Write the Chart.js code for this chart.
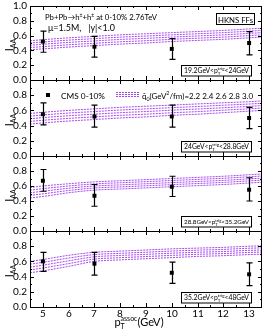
<!DOCTYPE html>
<html><head><meta charset="utf-8">
<script src="https://cdn.jsdelivr.net/npm/chart.js@4.4.1/dist/chart.umd.min.js"></script>
<style>
html,body{margin:0;padding:0;background:#fff;}
#wrap{position:relative;width:266px;height:330px;overflow:hidden;background:#fff}
canvas{position:absolute;left:0}
</style>
</head><body><div id="wrap"></div>
<script>
// ---------- data ----------
const xTheory = [4.5, 5, 6, 7, 8, 9, 10, 11, 12, 13, 13.5];
const qhatValues = ['2.2', '2.4', '2.6', '2.8', '3.0'];
const xData = [5, 7, 10, 13];
const xTickValues = [5, 6, 7, 8, 9, 10, 11, 12, 13];
const yTicksTop = [0, 0.2, 0.4, 0.6, 0.8, 1.0];
const yTicksOther = [0, 0.2, 0.4, 0.6, 0.8];
const trigRanges = [['19.2', '24'], ['24', '28.8'], ['28.8', '35.2'], ['35.2', '48']];

const theory1 = [
  [0.53, 0.545, 0.57, 0.59, 0.61, 0.625, 0.64, 0.655, 0.67, 0.69, 0.70],
  [0.50, 0.514, 0.539, 0.559, 0.579, 0.594, 0.61, 0.625, 0.64, 0.66, 0.67],
  [0.47, 0.483, 0.508, 0.528, 0.548, 0.563, 0.58, 0.595, 0.61, 0.63, 0.64],
  [0.44, 0.451, 0.476, 0.496, 0.516, 0.531, 0.55, 0.565, 0.58, 0.60, 0.61],
  [0.41, 0.42, 0.445, 0.465, 0.485, 0.50, 0.52, 0.535, 0.55, 0.57, 0.58]
];
const theory2 = [
  [0.56, 0.575, 0.60, 0.62, 0.64, 0.655, 0.67, 0.685, 0.70, 0.715, 0.725],
  [0.525, 0.54, 0.565, 0.585, 0.605, 0.62, 0.636, 0.651, 0.668, 0.684, 0.694],
  [0.49, 0.505, 0.53, 0.55, 0.57, 0.585, 0.603, 0.618, 0.635, 0.653, 0.663],
  [0.455, 0.47, 0.495, 0.515, 0.535, 0.55, 0.569, 0.584, 0.603, 0.621, 0.631],
  [0.42, 0.435, 0.46, 0.48, 0.50, 0.515, 0.535, 0.55, 0.57, 0.59, 0.60]
];
const theory3 = [
  [0.58, 0.60, 0.63, 0.655, 0.67, 0.685, 0.70, 0.715, 0.73, 0.75, 0.76],
  [0.545, 0.565, 0.60, 0.628, 0.643, 0.658, 0.673, 0.688, 0.703, 0.723, 0.733],
  [0.51, 0.53, 0.57, 0.60, 0.615, 0.63, 0.645, 0.66, 0.675, 0.695, 0.705],
  [0.475, 0.495, 0.54, 0.573, 0.588, 0.603, 0.618, 0.633, 0.648, 0.668, 0.678],
  [0.44, 0.46, 0.51, 0.545, 0.56, 0.575, 0.59, 0.605, 0.62, 0.64, 0.65]
];
const theory4 = [
  [0.60, 0.625, 0.68, 0.72, 0.735, 0.75, 0.765, 0.775, 0.785, 0.80, 0.805],
  [0.563, 0.588, 0.644, 0.69, 0.706, 0.721, 0.736, 0.748, 0.758, 0.773, 0.778],
  [0.525, 0.55, 0.608, 0.66, 0.678, 0.693, 0.708, 0.72, 0.73, 0.745, 0.75],
  [0.488, 0.513, 0.571, 0.63, 0.649, 0.664, 0.679, 0.693, 0.703, 0.718, 0.723],
  [0.45, 0.475, 0.535, 0.60, 0.62, 0.635, 0.65, 0.665, 0.675, 0.69, 0.695]
];

const iaa1 = [0.52, 0.45, 0.42, 0.50];
const lo1 = [0.375, 0.31, 0.28, 0.34];
const hi1 = [0.66, 0.59, 0.56, 0.655];
const iaa2 = [0.55, 0.52, 0.52, 0.50];
const lo2 = [0.41, 0.38, 0.38, 0.36];
const hi2 = [0.70, 0.67, 0.67, 0.64];
const iaa3 = [0.67, 0.47, 0.59, 0.55];
const lo3 = [0.53, 0.33, 0.46, 0.40];
const hi3 = [0.82, 0.62, 0.73, 0.71];
const iaa4 = [0.60, 0.57, 0.45, 0.43];
const lo4 = [0.47, 0.42, 0.31, 0.28];
const hi4 = [0.72, 0.72, 0.59, 0.58];

// ---------- layout / style ----------
const FONT = 'Lato, "Open Sans", "DejaVu Sans", sans-serif';
const THEORY_COLOR = 'rgba(150,40,235,0.85)';
const frameTop = [6, 80, 156, 231];
const frameBottom = [80, 156, 231, 307];
const canvasTop = frameTop.map(t => Math.max(0, t - 7));
const canvasBottom = frameBottom.map((b, i) => i === 3 ? 330 : b + 7);

const panels = [
  {theory: theory1, iaa: iaa1, lo: lo1, hi: hi1},
  {theory: theory2, iaa: iaa2, lo: lo2, hi: hi2},
  {theory: theory3, iaa: iaa3, lo: lo3, hi: hi3},
  {theory: theory4, iaa: iaa4, lo: lo4, hi: hi4}
];

function fnt(s) { return s.toFixed(2) + 'px ' + FONT; }
function segW(ctx, seg, f) {
  ctx.font = fnt(seg.s * f);
  if (seg.t !== undefined) return ctx.measureText(seg.t).width;
  return Math.max(ctx.measureText(seg.sup || '').width, ctx.measureText(seg.sub || '').width);
}
// rich text without non-uniform transforms: font sizes are scaled to fit a target width
function rich(ctx, segs, x, y, align, base, targetW) {
  let f = 1;
  if (targetW) {
    let w0 = 0;
    segs.forEach(s => w0 += segW(ctx, s, 1));
    if (w0 > 0) f = Math.min(1, targetW / w0);
  }
  let w = 0;
  segs.forEach(s => w += segW(ctx, s, f));
  ctx.save();
  let cx = x + (align === 'center' ? -w / 2 : (align === 'right' ? -w : 0));
  ctx.textBaseline = 'alphabetic';
  ctx.textAlign = 'left';
  ctx.fillStyle = '#000';
  const b = base * f;
  segs.forEach(s => {
    const sw = segW(ctx, s, f);
    ctx.font = fnt(s.s * f);
    if (s.t !== undefined) ctx.fillText(s.t, cx, y);
    else {
      if (s.sup) ctx.fillText(s.sup, cx, y - b * 0.42);
      if (s.sub) ctx.fillText(s.sub, cx, y + b * 0.3);
    }
    cx += sw;
  });
  ctx.restore();
}

const deco = {
  id: 'deco',
  afterDatasetsDraw(chart, args, o) {
    const i = o.idx, P = panels[i];
    const ctx = chart.ctx, xs = chart.scales.x, ys = chart.scales.y;
    ctx.save();
    ctx.strokeStyle = '#000';
    ctx.lineWidth = 1.2;
    xData.forEach((xv, k) => {
      const px = Math.round(xs.getPixelForValue(xv)) + 0.5;
      const pl = ys.getPixelForValue(P.lo[k]);
      const ph = ys.getPixelForValue(P.hi[k]);
      ctx.beginPath();
      ctx.moveTo(px, pl); ctx.lineTo(px, ph);
      ctx.moveTo(px - 3, pl); ctx.lineTo(px + 3, pl);
      ctx.moveTo(px - 3, ph); ctx.lineTo(px + 3, ph);
      ctx.stroke();
    });
    ctx.restore();
  },
  afterDraw(chart, args, o) {
    const i = o.idx;
    const ctx = chart.ctx, xs = chart.scales.x, ys = chart.scales.y;
    const a = chart.chartArea;
    const L = Math.round(a.left), R = Math.round(a.right), T = Math.round(a.top), B = Math.round(a.bottom);
    ctx.save();

    // x tick labels (bottom panel only), drawn first with a plain transform
    if (i === 3) {
      ctx.fillStyle = '#000';
      ctx.font = '10px ' + FONT;
      ctx.textAlign = 'center';
      ctx.textBaseline = 'middle';
      for (let k = 0; k < xTickValues.length; k++) {
        const v = xTickValues[k];
        ctx.fillText(String(v), Math.round(xs.getPixelForValue(v)), B + 7);
      }
    }

    ctx.strokeStyle = '#000';
    ctx.lineWidth = 1;
    ctx.strokeRect(L + 0.5, T + 0.5, R - L - 1, B - T);
    ctx.beginPath();
    for (let v = 5; v <= 13.01; v += 0.5) {
      const px = Math.round(xs.getPixelForValue(v)) + 0.5;
      const len = Math.abs(v - Math.round(v)) < 0.01 ? 4 : 2;
      ctx.moveTo(px, B); ctx.lineTo(px, B - len);
      ctx.moveTo(px, T); ctx.lineTo(px, T + len);
    }
    for (let k = 1; k < 10; k++) {
      const v = k / 10;
      const py = Math.round(ys.getPixelForValue(v)) + 0.5;
      const len = k % 2 === 0 ? 4 : 2;
      ctx.moveTo(L, py); ctx.lineTo(L + len, py);
      ctx.moveTo(R, py); ctx.lineTo(R - len, py);
    }
    ctx.stroke();

    const tr = trigRanges[i];
    const bw = 70, bh = 10.5;
    const bx = R - 11 - bw, by = B - 4.5 - bh;
    ctx.lineWidth = 1;
    ctx.strokeRect(Math.round(bx) + 0.5, Math.round(by) + 0.5, bw, bh);
    rich(ctx, [{t: tr[0] + 'GeV<p', s: 7.5}, {sup: 'trig', sub: 'T', s: 5}, {t: '<' + tr[1] + 'GeV', s: 7.5}],
      bx + bw / 2 + 0.5, by + 8.3, 'center', 7.5, 65);

    ctx.save();
    ctx.translate(12.5, (T + B) / 2 + 2);
    ctx.rotate(-Math.PI / 2);
    rich(ctx, [{t: 'I', s: 11}, {sub: 'AA', s: 7}], 0, 0, 'center', 11);
    ctx.restore();

    // annotations in page coordinates
    const off = -canvasTop[i];
    if (i === 0) {
      rich(ctx, [{t: 'Pb+Pb\u2192h', s: 9}, {sup: '\u00b1', s: 6}, {t: '+h', s: 9}, {sup: '\u00b1', s: 6}, {t: ' at 0-10% 2.76TeV', s: 9}],
        45, 20 + off, 'left', 9, 112);
      rich(ctx, [{t: '\u03bc=1.5M,   |y|<1.0', s: 9}], 48, 31 + off, 'left', 9, 67);
      ctx.strokeRect(216.5, 13.5 + off, 38, 11);
      rich(ctx, [{t: 'HKNS FFs', s: 9}], 235.5, 22.5 + off, 'center', 9, 35);
    }
    if (i === 1) {
      ctx.fillStyle = '#000';
      ctx.fillRect(46, 93 + off, 4, 4);
      rich(ctx, [{t: 'CMS 0-10%', s: 9}], 61, 98.5 + off, 'left', 9, 44);
      ctx.strokeStyle = THEORY_COLOR;
      ctx.setLineDash([2, 1]);
      ctx.beginPath();
      [92.5, 94.5, 96.5].forEach(yy => { ctx.moveTo(116, yy + off); ctx.lineTo(140, yy + off); });
      ctx.stroke();
      ctx.setLineDash([]);
      rich(ctx, [{t: 'q\u0302', s: 9}, {sub: '0', s: 6}, {t: '(GeV', s: 9}, {sup: '2', s: 6}, {t: '/fm)=' + qhatValues.join(' '), s: 9}],
        142, 98.5 + off, 'left', 9, 111);
    }
    if (i === 3) {
      rich(ctx, [{t: 'p', s: 11}, {sup: 'assoc', sub: 'T', s: 7}, {t: '(GeV)', s: 11}], 139, 326 + off, 'center', 11, 60);
    }
    ctx.restore();
  }
};

function makeChart(i) {
  const P = panels[i];
  const h = canvasBottom[i] - canvasTop[i];
  const cv = document.createElement('canvas');
  cv.id = 'p' + i;
  cv.width = 266;
  cv.height = h;
  cv.style.top = canvasTop[i] + 'px';
  cv.style.zIndex = String(i + 1);
  document.getElementById('wrap').appendChild(cv);
  const datasets = [{
    label: 'CMS 0-10%',
    data: xData.map((x, k) => ({x: x, y: P.iaa[k]})),
    showLine: false,
    pointStyle: 'rect',
    pointRadius: 2.8,
    pointBackgroundColor: '#000',
    pointBorderWidth: 0,
    borderColor: '#000'
  }];
  P.theory.forEach((arr, k) => datasets.push({
    label: 'qhat=' + qhatValues[k],
    data: xTheory.map((x, j) => ({x: x, y: arr[j]})),
    showLine: true,
    borderColor: THEORY_COLOR,
    borderWidth: 1,
    borderDash: [2, 1],
    pointRadius: 0,
    cubicInterpolationMode: 'monotone',
    fill: false
  }));
  const padTop = frameTop[i] - canvasTop[i];
  const padBottom = i === 3 ? 0 : canvasBottom[i] - frameBottom[i];
  return new Chart(cv, {
    type: 'scatter',
    data: {datasets: datasets},
    options: {
      responsive: false,
      animation: false,
      devicePixelRatio: 1,
      events: [],
      layout: {padding: {left: 0, right: 2, top: padTop, bottom: padBottom}},
      plugins: {legend: {display: false}, tooltip: {enabled: false}, deco: {idx: i}},
      scales: {
        x: {
          type: 'linear', min: 4.5, max: 13.5,
          grid: {display: false, drawTicks: false},
          border: {display: false},
          ticks: {display: false},
          afterFit: s => { s.height = i === 3 ? 23 : 0; s.paddingLeft = 0; s.paddingRight = 0; }
        },
        y: {
          type: 'linear', min: 0, max: 1,
          grid: {display: false, drawTicks: false},
          border: {display: false},
          afterBuildTicks: s => { s.ticks = (i === 0 ? yTicksTop : yTicksOther).map(v => ({value: v})); },
          ticks: {padding: 3, color: '#000', font: {family: FONT, size: 10}, autoSkip: false, callback: v => Number(v).toFixed(1)},
          afterFit: s => { s.width = 30; s.paddingTop = 0; s.paddingBottom = 0; }
        }
      }
    },
    plugins: [deco]
  });
}
// bottom panel first, so its axis labels are drawn before any other text
[3, 2, 1, 0].forEach(makeChart);
</script></body></html>
